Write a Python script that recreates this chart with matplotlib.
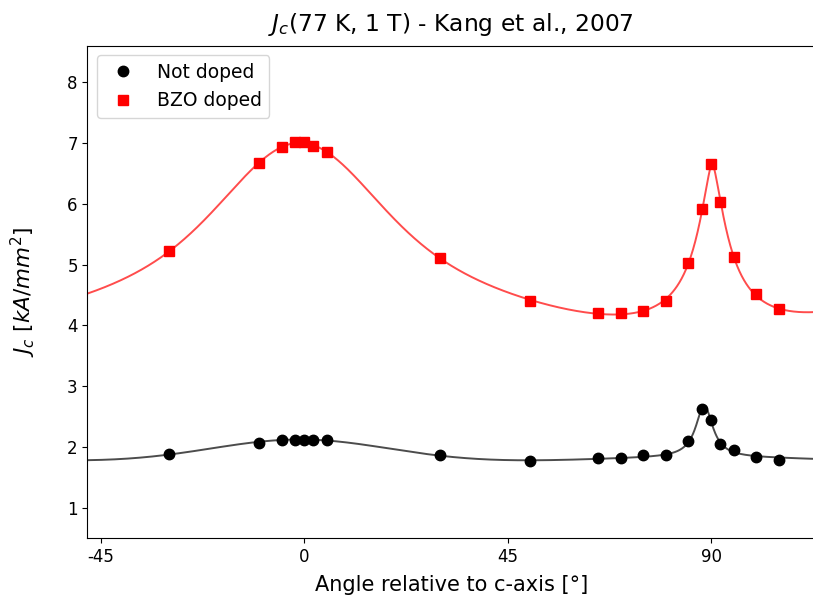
import numpy as np
import matplotlib
matplotlib.use("Agg")
import matplotlib.pyplot as plt

# ---- data ----
angles = [-30, -10, -5, -2, 0, 2, 5, 30, 50, 65, 70, 75, 80, 85, 88, 90, 92, 95, 100, 105]
jc_not_doped = [1.88, 2.07, 2.12, 2.12, 2.12, 2.12, 2.11, 1.86, 1.77, 1.81, 1.82, 1.86,
                1.87, 2.09, 2.63, 2.44, 2.05, 1.95, 1.84, 1.79]
jc_bzo_doped = [5.22, 6.67, 6.93, 7.02, 7.02, 6.95, 6.85, 5.11, 4.40, 4.21, 4.21, 4.23,
                4.40, 5.03, 5.91, 6.66, 6.03, 5.13, 4.51, 4.27]
labels = ["Not doped", "BZO doped"]
x_ticks = [-45, 0, 45, 90]


def design(theta, s1, c1, c2, s2, p):
    t = np.radians(np.asarray(theta, float))
    u = np.sin(t - np.radians(c1)) / s1
    v = np.abs(np.sin(t - np.radians(c2)) / s2)
    cols = [np.ones_like(u), np.exp(-u ** 2), 1.0 / (1.0 + u ** 2),
            1.0 / (1.0 + v ** p)]
    return np.stack(cols, axis=-1)


def fit_curve(x, y):
    x = np.asarray(x, float)
    y = np.asarray(y, float)
    C1, C2, S2 = np.meshgrid(np.linspace(-3, 1, 9), np.linspace(86, 92, 25),
                             np.linspace(0.01, 0.2, 39), indexing="ij")
    C1, C2, S2 = C1.ravel(), C2.ravel(), S2.ravel()
    best = None
    for p in (1.0, 1.25, 1.5, 1.75, 2.0):
        for s1 in np.linspace(0.15, 1.2, 36):
            A = design(x[None, :], s1, C1[:, None], C2[:, None], S2[:, None], p)
            AtA = np.einsum("nik,nil->nkl", A, A) + 1e-9 * np.eye(A.shape[-1])
            Aty = np.einsum("nik,i->nk", A, y)
            coef = np.linalg.solve(AtA, Aty[..., None])[..., 0]
            res = np.sum((np.einsum("nik,nk->ni", A, coef) - y) ** 2, axis=1)
            res[coef[:, 3] < 0] = np.inf
            i = int(np.argmin(res))
            if best is None or res[i] < best[0]:
                best = (res[i], s1, C1[i], C2[i], S2[i], p, coef[i])
    _, s1, c1, c2, s2, p, coef = best
    return lambda th: design(th, s1, c1, c2, s2, p) @ coef


fig = plt.figure(figsize=(8.13, 5.99), dpi=100)
ax = fig.add_axes([0.1076, 0.1018, 0.8948, 0.8214])

xs = np.linspace(-48, 113, 1600)
f_nd = fit_curve(angles, jc_not_doped)
f_bzo = fit_curve(angles, jc_bzo_doped)

ax.plot(xs, f_nd(xs), color="black", alpha=0.7, lw=1.4)
ax.plot(xs, f_bzo(xs), color="red", alpha=0.7, lw=1.4)
ax.plot(angles, jc_not_doped, "o", color="black", ms=7.5, label=labels[0])
ax.plot(angles, jc_bzo_doped, "s", color="red", ms=7.5, label=labels[1])

ax.set_xlim(-48, 113)
ax.set_ylim(0.5, 8.6)
ax.set_xticks(x_ticks)
ax.set_xticklabels([str(v) for v in x_ticks])
ax.tick_params(labelsize=12)
ax.set_xlabel("Angle relative to c-axis [°]", fontsize=15, labelpad=7)
ax.set_ylabel(r"$J_c\ [kA/mm^2]$", fontsize=15.5, labelpad=21)
ax.set_title(r"$J_c$(77 K, 1 T) - Kang et al., 2007", fontsize=16.8, pad=11)
ax.legend(loc="upper left", fontsize=13.5)

fig.savefig("out.png", dpi=100)
